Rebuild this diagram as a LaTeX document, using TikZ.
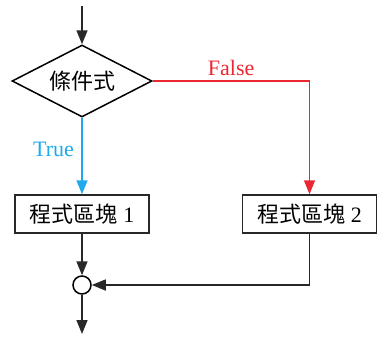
\documentclass[tikz,border=0pt]{standalone}
\usepackage{fontspec}
\setmainfont{Liberation Serif}
\newfontfamily\cjk{Noto Sans CJK TC}
\usetikzlibrary{arrows.meta,shapes.geometric}
\definecolor{lineblk}{RGB}{40,40,40}
\definecolor{fred}{RGB}{235,40,50}
\definecolor{tblue}{RGB}{30,170,235}
\begin{document}
\begin{tikzpicture}[x=1pt,y=-1pt,
  every node/.style={font=\fontsize{22}{26}\selectfont},
  flow/.style={line width=1.5pt,draw=lineblk,-{Triangle[length=14pt,width=11pt]}},
  plain/.style={line width=1.5pt,draw=lineblk},
  blockbox/.style={draw=lineblk,line width=1.5pt,minimum width=134pt,minimum height=38pt,inner sep=0pt},
  decision/.style={draw=black,line width=1.5pt,diamond,aspect=1.94,minimum width=140pt,minimum height=72pt,inner sep=0pt},
  joint/.style={draw=black,line width=1.5pt,circle,minimum size=18pt,inner sep=0pt}]
\useasboundingbox (0,0) rectangle (385,343);
\coordinate (start) at (82,6);
\node[decision] (cond) at (82,81) {\cjk 條件式};
\node[blockbox] (b1) at (82,214) {{\cjk 程式區塊} 1};
\node[blockbox] (b2) at (309.5,214) {{\cjk 程式區塊} 2};
\node[joint] (j) at (82,285) {};
\coordinate (end) at (82,334);
\coordinate (fc) at (309.5,81);
\coordinate (rc) at (309.5,285);
\draw[flow] (start) -- (cond.north);
\draw[line width=1.5pt,draw=tblue,-{Triangle[length=14pt,width=11pt]}] (cond.south) -- node[pos=0.42,left=4pt,text=tblue]{True} (b1.north);
\draw[line width=1.5pt,draw=fred,-{Triangle[length=14pt,width=11pt]}] (cond.east) -- node[pos=0.5,above=1pt,text=fred]{False} (fc) -- (b2.north);
\draw[flow] (b1.south) -- (j.north);
\draw[flow] (b2.south) -- (rc) -- (j.east);
\draw[flow] (j.south) -- (end);
\end{tikzpicture}
\end{document}
